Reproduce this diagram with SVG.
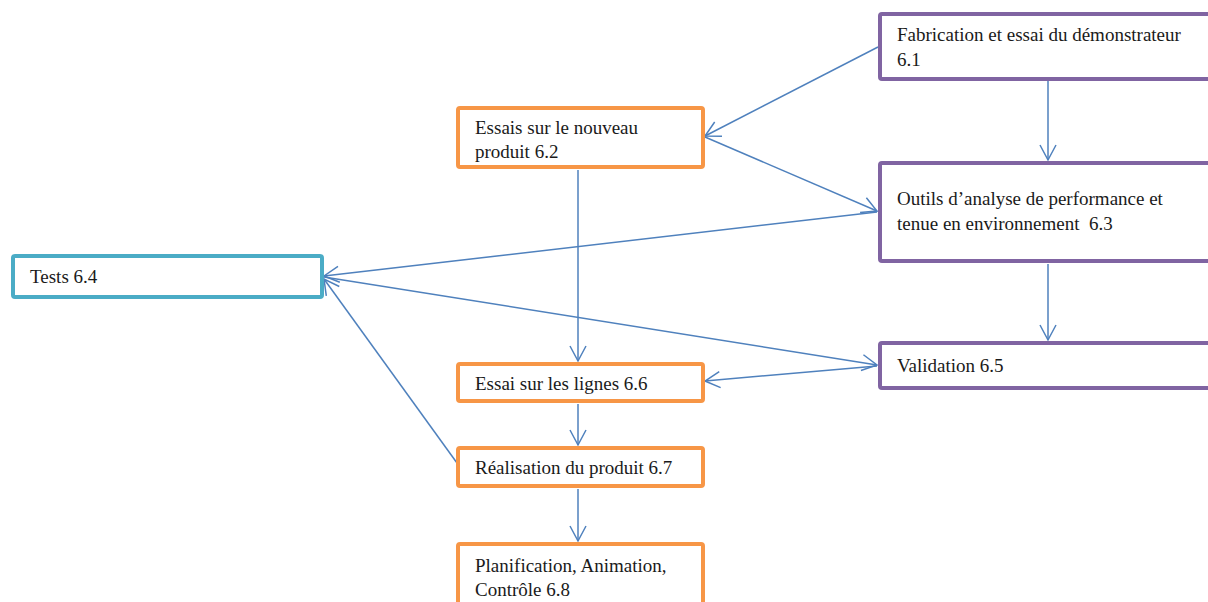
<svg xmlns="http://www.w3.org/2000/svg" width="1208" height="602" viewBox="0 0 1208 602">
<style>
.box{fill:#fff;stroke-width:4}
.p{stroke:#8064A2}.o{stroke:#F79646}.t{stroke:#4BACC6}
.lbl{font-family:"Liberation Serif","Times New Roman",serif;font-size:19px;fill:#1a1a1a}
.c{stroke:#4F81BD;stroke-width:1.5;fill:none;marker-end:url(#ah)}
</style>
<defs>
<marker id="ah" markerUnits="userSpaceOnUse" viewBox="0 0 18 18" refX="16" refY="9" markerWidth="18" markerHeight="18" orient="auto-start-reverse">
<path d="M1,1 L16,9 L1,17" fill="none" stroke="#4F81BD" stroke-width="1.5"/>
</marker>
</defs>
<rect width="1208" height="602" fill="#fff"/>
<g id="connectors">
<line class="c" x1="878" y1="47" x2="705" y2="136"/>
<line class="c" x1="1048" y1="80" x2="1048" y2="160"/>
<line class="c" x1="705" y1="137" x2="877" y2="211"/>
<line class="c" x1="877" y1="212" x2="324" y2="276"/>
<line class="c" x1="578" y1="170" x2="578" y2="361"/>
<line class="c" x1="1048" y1="264" x2="1048" y2="340"/>
<line class="c" x1="324" y1="277" x2="877" y2="365"/>
<line class="c" x1="877" y1="366" x2="705" y2="381"/>
<line class="c" x1="457" y1="463" x2="324" y2="279"/>
<line class="c" x1="578" y1="404" x2="578" y2="445"/>
<line class="c" x1="578" y1="489" x2="578" y2="541"/>
</g>
<g id="n61">
<rect class="box p" x="880" y="14" width="332" height="65" rx="2"/>
<text class="lbl" x="897" y="41">Fabrication et essai du démonstrateur</text>
<text class="lbl" x="897" y="66">6.1</text>
</g>
<g id="n62">
<rect class="box o" x="458" y="108" width="245" height="59" rx="2"/>
<text class="lbl" x="475" y="134">Essais sur le nouveau</text>
<text class="lbl" x="475" y="158">produit 6.2</text>
</g>
<g id="n63">
<rect class="box p" x="880" y="163" width="332" height="98" rx="2"/>
<text class="lbl" x="897" y="205">Outils d’analyse de performance et</text>
<text class="lbl" x="897" y="230" xml:space="preserve">tenue en environnement  6.3</text>
</g>
<g id="n64">
<rect class="box t" x="13" y="256" width="309" height="41" rx="2"/>
<text class="lbl" x="30" y="283">Tests 6.4</text>
</g>
<g id="n65">
<rect class="box p" x="880" y="343" width="332" height="45" rx="2"/>
<text class="lbl" x="897" y="372">Validation 6.5</text>
</g>
<g id="n66">
<rect class="box o" x="458" y="364" width="245" height="37" rx="2"/>
<text class="lbl" x="475" y="390">Essai sur les lignes 6.6</text>
</g>
<g id="n67">
<rect class="box o" x="458" y="448" width="245" height="38" rx="2"/>
<text class="lbl" x="475" y="474">Réalisation du produit 6.7</text>
</g>
<g id="n68">
<rect class="box o" x="458" y="544" width="245" height="70" rx="2"/>
<text class="lbl" x="475" y="572">Planification, Animation,</text>
<text class="lbl" x="475" y="596">Contrôle 6.8</text>
</g>
</svg>
